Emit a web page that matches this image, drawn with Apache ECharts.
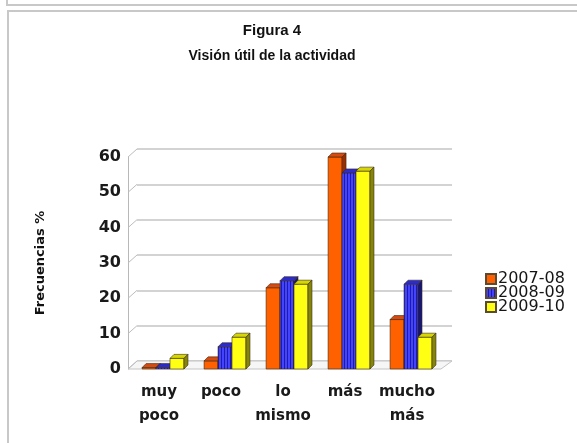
<!DOCTYPE html>
<html>
<head>
<meta charset="utf-8">
<script src="https://cdn.jsdelivr.net/npm/echarts@6/dist/echarts.min.js"></script>
<style>
html,body{margin:0;padding:0;background:#fff;}
#main{width:577px;height:443px;}
</style>
</head>
<body>
<div id="main"></div>
<script>
// datos
var categories = ['muy\npoco', 'poco', 'lo\nmismo', 'más', 'mucho\nmás'];
var seriesNames = ['2007-08', '2008-09', '2009-10'];
var v2007 = [0.4, 2.3, 23, 60, 14];
var v2008 = [0.4, 6.3, 25, 55.5, 24];
var v2009 = [3, 9, 24, 56, 9];
var yTicks = [0, 10, 20, 30, 40, 50, 60];

var FONT = 'DejaVu Sans';
var DX = 9, DY = 8;   // profundidad de la pared
var BD = 4;           // profundidad de la barra

// rayas verticales de la serie azul
var stripe = document.createElement('canvas');
stripe.width = 3; stripe.height = 4;
var sc = stripe.getContext('2d');
sc.fillStyle = '#4444ff'; sc.fillRect(0, 0, 3, 4);
sc.fillStyle = '#1c1ca8'; sc.fillRect(2, 0, 1, 4);

var palette = [
    {front: '#ff6000', top: '#d84a10', side: '#9a2e00'},
    {front: {image: stripe, repeat: 'repeat'}, top: '#2b2bd0', side: '#16167a'},
    {front: '#ffff14', top: '#d6d600', side: '#85850a'}
];

function toData(arr){
    var out = [];
    for(var i=0;i<arr.length;i++){
        out.push([i, arr[i]]);
    }
    return out;
}

function bar3d(si){
    var c = palette[si];
    return function(params, api){
        var j = api.value(0), v = api.value(1);
        var base = api.coord([j, 0]);
        var top = api.coord([j, v]);
        var band = api.size([1, 0])[0];
        var w = band * 0.225;
        var x = base[0] - 1.5 * w + band * 0.065 + si * w;
        var y0 = base[1], y1 = top[1];
        var st = {stroke: '#3a2a10', lineWidth: 0.6};
        return {
            type: 'group',
            children: [
                {type: 'rect', shape: {x: x, y: y1, width: w, height: y0 - y1},
                 style: {fill: c.front, stroke: st.stroke, lineWidth: st.lineWidth}},
                {type: 'polygon', shape: {points: [[x, y1], [x + BD, y1 - BD], [x + w + BD, y1 - BD], [x + w, y1]]},
                 style: {fill: c.top, stroke: st.stroke, lineWidth: st.lineWidth}},
                {type: 'polygon', shape: {points: [[x + w, y1], [x + w + BD, y1 - BD], [x + w + BD, y0 - BD], [x + w, y0]]},
                 style: {fill: c.side, stroke: st.stroke, lineWidth: st.lineWidth}}
            ]
        };
    };
}

// pared izquierda y suelo
function wall(params, api){
    var cs = params.coordSys;
    var v = api.value(1);
    var y = api.coord([0, v])[1];
    var kids = [{type: 'line', shape: {x1: cs.x, y1: y, x2: cs.x + DX, y2: y - DY},
                 style: {stroke: '#bdbdbd', lineWidth: 1}}];
    if(v === 0){
        kids.unshift({type: 'polygon',
            shape: {points: [[cs.x, y], [cs.x + cs.width + 3, y], [cs.x + cs.width + DX + 5, y - DY], [cs.x + DX, y - DY]]},
            style: {fill: '#f6f6f6', stroke: '#c4c4c4', lineWidth: 1}});
    }
    return {type: 'group', children: kids};
}

var chart = echarts.init(document.getElementById('main'));
var series = [{
    type: 'custom', name: 'pared', xAxisIndex: 0, yAxisIndex: 0, z: 1,
    renderItem: wall, data: yTicks.map(function(t){ return [0, t]; }),
    silent: true, legendHoverLink: false
}];
var vals = [v2007, v2008, v2009];
var legendColors = ['#ff6000', {image: stripe, repeat: 'repeat'}, '#ffff14'];
for(var s=0;s<3;s++){
    series.push({
        type: 'custom', name: seriesNames[s], xAxisIndex: 0, yAxisIndex: 0, z: 3,
        renderItem: bar3d(s),
        itemStyle: {color: legendColors[s], borderColor: '#5a4a30', borderWidth: 0.6},
        encode: {x: 0, y: 1},
        data: toData(vals[s])
    });
}

chart.setOption({
    animation: false,
    backgroundColor: '#fff',
    graphic: [
        {type: 'rect', shape: {x: 7, y: -10, width: 600, height: 15}, style: {fill: 'none', stroke: '#c8c8c8', lineWidth: 2}, z: 0},
        {type: 'rect', shape: {x: 8, y: 11, width: 600, height: 460}, style: {fill: 'none', stroke: '#c8c8c8', lineWidth: 2}, z: 0},
        {type: 'text', x: 272, y: 31, style: {text: 'Figura 4', font: 'bold 15px "Liberation Sans"', fill: '#111', align: 'center', verticalAlign: 'middle'}},
        {type: 'text', x: 272, y: 56, style: {text: 'Visión útil de la actividad', font: 'bold 14px "Liberation Sans"', fill: '#111', align: 'center', verticalAlign: 'middle'}}
    ],
    legend: {
        data: seriesNames,
        orient: 'vertical',
        left: 480,
        top: 266,
        itemWidth: 10,
        itemHeight: 10,
        itemGap: -2,
        icon: 'rect',
        textStyle: {fontFamily: FONT, fontSize: 16, color: '#151515', padding: [0, 0, 0, -3]}
    },
    grid: [
        {left: 128, top: 157, width: 310, height: 212},
        {left: 137, top: 149, width: 315, height: 212}
    ],
    xAxis: [
        {type: 'category', gridIndex: 0, data: categories,
         axisLine: {show: false}, axisTick: {show: false},
         axisLabel: {fontFamily: FONT, fontSize: 15, fontWeight: 'bold', color: '#1a1a1a', lineHeight: 24, margin: 11, interval: 0}},
        {type: 'category', gridIndex: 1, data: categories, show: false}
    ],
    yAxis: [
        {type: 'value', gridIndex: 0, min: 0, max: 60, interval: 10,
         name: 'Frecuencias %', nameLocation: 'middle', nameGap: 81,
         nameTextStyle: {fontFamily: FONT, fontSize: 13, fontWeight: 'bold', color: '#111'},
         axisLine: {show: true, lineStyle: {color: '#b8b8b8'}},
         axisTick: {show: false},
         splitLine: {show: false},
         axisLabel: {fontFamily: FONT, fontSize: 16, fontWeight: 'bold', color: '#1a1a1a', margin: 7}},
        {type: 'value', gridIndex: 1, min: 0, max: 60, interval: 10,
         axisLine: {show: false}, axisTick: {show: false}, axisLabel: {show: false},
         splitLine: {show: true, lineStyle: {color: '#c4c4c4', width: 1.5}}}
    ],
    series: series
});
</script>
</body>
</html>
